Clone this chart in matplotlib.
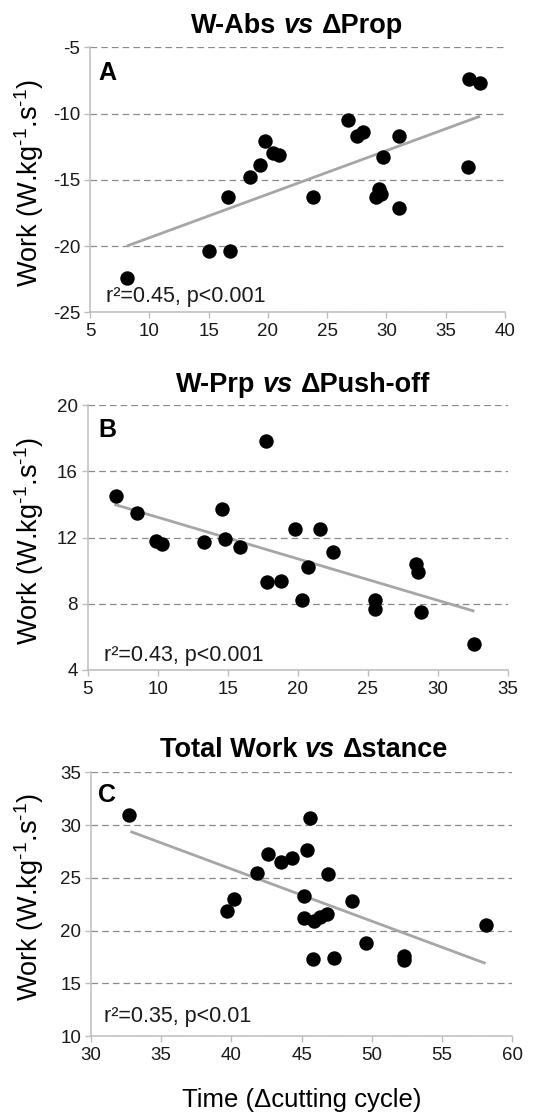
import matplotlib
matplotlib.use("Agg")
import matplotlib.pyplot as plt
from matplotlib import font_manager

# ---- data -------------------------------------------------------------
a_x = [8.1, 15.0, 16.8, 16.6, 18.5, 19.3, 19.8, 20.4, 20.9, 23.8, 26.8,
       27.5, 28.0, 29.1, 29.4, 29.5, 29.7, 31.1, 31.1, 36.9, 37.0, 37.9]
a_y = [-22.4, -20.4, -20.4, -16.3, -14.8, -13.9, -12.1, -13.0, -13.1, -16.3, -10.5,
       -11.7, -11.4, -16.3, -15.7, -16.1, -13.3, -11.7, -17.1, -14.0, -7.4, -7.7]
a_fit_x = [8.1, 37.9]
a_fit_y = [-20.0, -10.2]

b_x = [7.0, 8.5, 9.9, 10.3, 13.3, 14.6, 14.8, 15.9, 17.7, 17.8, 18.8,
       19.8, 20.3, 20.7, 21.6, 22.5, 25.5, 25.5, 28.4, 28.6, 28.8, 32.6]
b_y = [14.5, 13.5, 11.8, 11.6, 11.7, 13.7, 11.9, 11.4, 17.8, 9.3, 9.4,
       12.5, 8.2, 10.2, 12.5, 11.1, 8.2, 7.7, 10.4, 9.9, 7.5, 5.6]
b_fit_x = [6.9, 32.6]
b_fit_y = [14.0, 7.55]

c_x = [32.7, 39.7, 40.2, 41.8, 42.6, 43.5, 44.3, 45.2, 45.2, 45.4, 45.6,
       45.8, 45.9, 46.3, 46.8, 46.9, 47.3, 48.6, 49.6, 52.3, 52.3, 58.1]
c_y = [31.0, 21.9, 23.0, 25.5, 27.3, 26.5, 26.9, 23.3, 21.2, 27.6, 30.7,
       17.3, 20.9, 21.3, 21.6, 25.4, 17.4, 22.8, 18.8, 17.6, 17.2, 20.5]
c_fit_x = [32.8, 58.1]
c_fit_y = [29.4, 16.9]

titles = [
    [("W-Abs", "normal"), ("vs", "italic"), ("\u0394Prop", "normal")],
    [("W-Prp", "normal"), ("vs", "italic"), ("\u0394Push-off", "normal")],
    [("Total Work", "normal"), ("vs", "italic"), ("\u0394stance", "normal")],
]
stats = ["r\u00b2=0.45, p<0.001", "r\u00b2=0.43, p<0.001", "r\u00b2=0.35, p<0.01"]
letters = ["A", "B", "C"]
ylabel = r"Work (W.kg$^{\text{-}1}$.s$^{\text{-}1}$)"
xlabel = "Time (\u0394cutting cycle)"

# ---- style ------------------------------------------------------------
plt.rcParams.update({
    "font.family": ["Liberation Sans", "DejaVu Sans"],
    "mathtext.fontset": "custom",
    "mathtext.rm": "Liberation Sans",
    "mathtext.it": "Liberation Sans:italic",
    "mathtext.bf": "Liberation Sans:bold",
    "axes.unicode_minus": False,
    "lines.scale_dashes": False,
})
installed = {f.name for f in font_manager.fontManager.ttflist}
if "Liberation Sans Narrow" in installed:
    YFAM, YSIZE = ["Liberation Sans Narrow", "Liberation Sans"], 23
else:
    YFAM, YSIZE = ["Liberation Sans", "DejaVu Sans"], 19.5

W, H, DPI = 553, 1119, 100
AXIS = "#BDBDBD"
GRID = "#8A8A8A"
FIT = "#A6A6A6"

fig = plt.figure(figsize=(W / DPI, H / DPI), dpi=DPI)
fig.patch.set_facecolor("white")


def px_rect(left, right, top, bottom):
    return [left / W, 1 - bottom / H, (right - left) / W, (bottom - top) / H]


def panel(rect, x, y, fx, fy, xlim, xticks, ylim, yticks, letter, lpos, stat, spos):
    ax = fig.add_axes(rect)
    ax.set_xlim(xlim)
    ax.set_ylim(ylim)
    ax.set_xticks(xticks)
    ax.set_yticks(yticks)
    ax.grid(axis="y", color=GRID, linestyle=(0, (4.8, 2.9)), linewidth=0.9)
    ax.set_axisbelow(True)
    for s in ("top", "right"):
        ax.spines[s].set_visible(False)
    for s in ("left", "bottom"):
        ax.spines[s].set_color(AXIS)
        ax.spines[s].set_linewidth(1.1)
        ax.spines[s].set_zorder(2.5)
    ax.tick_params(axis="both", direction="out", length=4, width=1.0,
                   color=AXIS, labelsize=13.5, labelcolor="#1a1a1a")
    ax.tick_params(axis="x", pad=4)
    ax.tick_params(axis="y", pad=3)
    ax.plot(fx, fy, color=FIT, linewidth=2.0, solid_capstyle="butt", zorder=2)
    ax.scatter(x, y, s=108, color="black", linewidths=0, zorder=3, clip_on=False)
    ax.text(lpos[0], lpos[1], letter, transform=ax.transAxes, fontsize=18,
            fontweight="bold", ha="left", va="baseline")
    ax.text(spos[0], spos[1], stat, transform=ax.transAxes, fontsize=15.5,
            ha="left", va="baseline", color="#1a1a1a")
    return ax


panel(px_rect(90, 505, 47.3, 312.3), a_x, a_y, a_fit_x, a_fit_y,
      (5, 40), range(5, 41, 5), (-25, -5), range(-25, -4, 5),
      letters[0], (0.02, 0.877), stats[0], (0.039, 0.040))
panel(px_rect(87.7, 508, 405, 670), b_x, b_y, b_fit_x, b_fit_y,
      (5, 35), range(5, 36, 5), (4, 20), range(4, 21, 4),
      letters[1], (0.025, 0.880), stats[1], (0.039, 0.035))
panel(px_rect(91, 512.3, 772.3, 1036.3), c_x, c_y, c_fit_x, c_fit_y,
      (30, 60), range(30, 61, 5), (10, 35), range(10, 36, 5),
      letters[2], (0.016, 0.889), stats[2], (0.031, 0.055))


def rich_title(xc, ybase, parts, size=19.5):
    r = fig.canvas.get_renderer()
    texts = [fig.text(0, 1 - ybase / H, s, fontsize=size, fontweight="bold",
                      fontstyle=st, ha="left", va="baseline") for s, st in parts]
    space = size * DPI / 72 * 0.278
    widths = [t.get_window_extent(r).width for t in texts]
    xpos = xc - (sum(widths) + space * (len(texts) - 1)) / 2
    for t, w in zip(texts, widths):
        t.set_x(xpos / W)
        xpos += w + space


rich_title(297, 33.3, titles[0])
rich_title(303, 391.7, titles[1])
rich_title(304, 756.7, titles[2])

# y labels, one per panel
for yc in (183, 540.8, 896.7):
    fig.text(29 / W, 1 - yc / H, ylabel, rotation=90, ha="center", va="center",
             fontsize=YSIZE, family=YFAM)

fig.text(301.7 / W, 1 - 1106.7 / H, xlabel, ha="center", va="baseline", fontsize=18.5)

fig.savefig("out.png", dpi=DPI, facecolor="white")
